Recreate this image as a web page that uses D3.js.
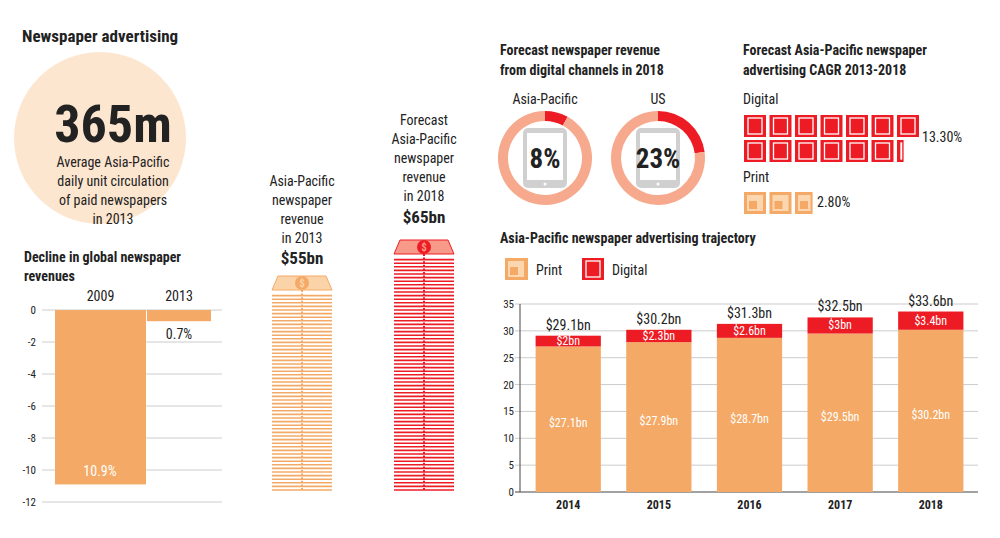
<!DOCTYPE html><html><head><meta charset="utf-8"><script src="https://cdn.jsdelivr.net/npm/d3@7"></script>
<style>body{margin:0;background:#fff}text{font-family:"Liberation Sans Narrow","Roboto Condensed","Roboto",sans-serif;fill:#222}</style></head><body><svg id="c" width="1000" height="538"></svg>
<script>
const declineYears=["2009","2013"], declineValues=[-10.9,-0.7];
const declineTicks=[0,-2,-4,-6,-8,-10,-12];
const stackLabels=["2013","2018"], stackValues=[55,65];
const donutRegions=["Asia-Pacific","US"], donutDigital=[8,23];
const cagrSeries=["Digital","Print"], cagrValues=[13.3,2.8];
const years=["2014","2015","2016","2017","2018"];
const printVals=[27.1,27.9,28.7,29.5,30.2];
const digitalVals=[2,2.3,2.6,3,3.4];
const totals=[29.1,30.2,31.3,32.5,33.6];
const yTicks=[0,5,10,15,20,25,30,35];
const ORANGE="#f4aa66", RED="#ed1c24", PEACH="#f6a98c";
const svg=d3.select("#c");
function txt(x,y,s,o={}){return svg.append("text").attr("x",x).attr("y",y).text(s).attr("font-size",o.size||14).attr("font-weight",o.bold?"bold":null).attr("text-anchor",o.anchor||"start").style("fill",o.fill||"#222");}
svg.append("circle").attr("cx",100).attr("cy",138).attr("r",86).attr("fill","#fde6cf");
txt(22,42,"Newspaper advertising",{size:17,bold:true});
txt(113,142,"365m",{size:52,bold:true,anchor:"middle"});
["Average Asia-Pacific","daily unit circulation","of paid newspapers","in 2013"].forEach((s,i)=>txt(113,167+i*19,s,{anchor:"middle"}));
txt(24,262,"Decline in global newspaper",{size:14,bold:true});txt(24,281,"revenues",{size:14,bold:true});
const dy=d3.scaleLinear().domain([0,-12]).range([310,502]);
const dxr=d3.scaleOrdinal().domain(declineYears).range([[55,146],[147,211]]);
declineTicks.forEach(t=>{svg.append("line").attr("x1",42).attr("x2",222).attr("y1",dy(t)).attr("y2",dy(t)).attr("stroke","#ccc");txt(36,dy(t)+4,t,{size:11,anchor:"end"});});
declineYears.forEach((y,i)=>{const r=dxr(y);svg.append("rect").attr("x",r[0]).attr("width",r[1]-r[0]).attr("y",dy(0)).attr("height",dy(declineValues[i])-dy(0)).attr("fill",ORANGE);txt((r[0]+r[1])/2,301,y,{anchor:"middle"});});
txt(100,dy(declineValues[0])-8,Math.abs(declineValues[0])+"%",{anchor:"middle",fill:"#fff"});
txt(179,dy(declineValues[1])+18,Math.abs(declineValues[1])+"%",{anchor:"middle"});
const sy=d3.scaleLinear().domain([0,1]).range([490,486.4]);
function stack(cx,n,col,light){const w=60;for(let i=0;i<n;i++){const y=sy(i);svg.append("path").attr("d",`M${cx-w/2},${y} h${w}`).attr("stroke",col).attr("stroke-width",1.6).attr("fill","none");}
 const t=sy(n)-2;svg.append("path").attr("d",`M${cx-w/2},${t} L${cx-w/2+6},${t-14} L${cx+w/2-6},${t-14} L${cx+w/2},${t} Z`).attr("fill",light).attr("stroke",col);
 svg.append("circle").attr("cx",cx).attr("cy",t-7).attr("r",7).attr("fill",col);txt(cx,t-3,"$",{size:11,bold:true,anchor:"middle",fill:light});
 svg.append("line").attr("x1",cx).attr("x2",cx).attr("y1",t).attr("y2",490).attr("stroke",col).attr("stroke-width",2).attr("stroke-dasharray","2,1.6");}
stack(302,stackValues[0],ORANGE,"#fbd3a8");stack(424,stackValues[1],RED,"#f79a8a");
["Asia-Pacific","newspaper","revenue","in "+stackLabels[0]].forEach((s,i)=>txt(302,186+i*19,s,{anchor:"middle"}));
txt(302,264,"$"+stackValues[0]+"bn",{size:17,bold:true,anchor:"middle"});
["Forecast","Asia-Pacific","newspaper","revenue","in "+stackLabels[1]].forEach((s,i)=>txt(424,125+i*19,s,{anchor:"middle"}));
txt(424,223,"$"+stackValues[1]+"bn",{size:17,bold:true,anchor:"middle"});
txt(500,55,"Forecast newspaper revenue",{bold:true});txt(500,75,"from digital channels in 2018",{bold:true});
const arc=d3.arc().innerRadius(37).outerRadius(47);
donutRegions.forEach((r,i)=>{const cx=545+i*113,cy=158;txt(cx,104,r,{anchor:"middle"});
 const pie=d3.pie().sort(null)([donutDigital[i],100-donutDigital[i]]);
 svg.append("g").attr("transform",`translate(${cx},${cy})`).selectAll("path").data(pie).join("path").attr("d",arc).attr("fill",(d,j)=>j?PEACH:RED);
 svg.append("rect").attr("x",cx-22).attr("y",cy-30).attr("width",44).attr("height",60).attr("rx",5).attr("fill","#d0d0d0");
 svg.append("rect").attr("x",cx-18).attr("y",cy-25).attr("width",36).attr("height",47).attr("fill","#fff");
 svg.append("circle").attr("cx",cx).attr("cy",cy+26).attr("r",1.5).attr("fill","#fff");
 txt(cx,cy+10,donutDigital[i]+"%",{size:27,bold:true,anchor:"middle"});});
txt(743,55,"Forecast Asia-Pacific newspaper",{bold:true});txt(743,75,"advertising CAGR 2013-2018",{bold:true});
function tablet(x,y,w){svg.append("rect").attr("x",x).attr("y",y).attr("width",w).attr("height",22).attr("fill",RED);
 if(w>6){svg.append("rect").attr("x",x+4).attr("y",y+3).attr("width",Math.min(14,w-6)).attr("height",16).attr("fill","none").attr("stroke","#fff").attr("stroke-width",1.3);}}
function paper(x,y,w){svg.append("rect").attr("x",x).attr("y",y).attr("width",w).attr("height",22).attr("fill",ORANGE);
 svg.append("rect").attr("x",x+3).attr("y",y+3).attr("width",Math.min(16,w-5)).attr("height",16).attr("fill","#fbd6ae");
 svg.append("rect").attr("x",x+5).attr("y",y+9).attr("width",Math.min(8,w-8)).attr("height",8).attr("fill",ORANGE);}
txt(743,104,cagrSeries[0]);
for(let k=0;k<Math.ceil(cagrValues[0]);k++){const f=Math.min(1,cagrValues[0]-k);tablet(744+(k%7)*25.5,115+Math.floor(k/7)*25,22*f);}
txt(922,142,cagrValues[0].toFixed(2)+"%");
txt(743,182,cagrSeries[1]);
for(let k=0;k<Math.ceil(cagrValues[1]);k++){const f=Math.min(1,cagrValues[1]-k);paper(744+k*25.5,192,22*f);}
txt(817,207,cagrValues[1].toFixed(2)+"%");
txt(500,243,"Asia-Pacific newspaper advertising trajectory",{bold:true});
paper(505,258,23);txt(536,275,"Print");tablet(582,258,22);txt(612,275,"Digital");
const y=d3.scaleLinear().domain([0,35]).range([492,304]);
const x=d3.scaleBand().domain(years).range([522,977]).paddingInner(0.28).paddingOuter(0.15);
yTicks.forEach(t=>{svg.append("line").attr("x1",515).attr("x2",978).attr("y1",y(t)).attr("y2",y(t)).attr("stroke",t?"#ccc":"#444");txt(514,y(t)+4,t,{size:11,anchor:"end"});});
svg.append("line").attr("x1",520).attr("x2",520).attr("y1",304).attr("y2",492).attr("stroke","#444");
years.forEach((yr,i)=>{const bx=x(yr),bw=x.bandwidth();
 svg.append("rect").attr("x",bx).attr("width",bw).attr("y",y(printVals[i])).attr("height",y(0)-y(printVals[i])).attr("fill",ORANGE);
 svg.append("rect").attr("x",bx).attr("width",bw).attr("y",y(printVals[i]+digitalVals[i])).attr("height",y(printVals[i])-y(printVals[i]+digitalVals[i])).attr("fill",RED);
 txt(bx+bw/2,y(printVals[i]+digitalVals[i]/2)+4,"$"+digitalVals[i]+"bn",{size:12,anchor:"middle",fill:"#fff"});
 txt(bx+bw/2,y(printVals[i]/2)+8,"$"+printVals[i]+"bn",{size:12,anchor:"middle",fill:"#fff"});
 txt(bx+bw/2,y(totals[i])-6,"$"+totals[i]+"bn",{size:14,anchor:"middle"});
 txt(bx+bw/2,509,yr,{size:12,bold:true,anchor:"middle"});});
</script></body></html>
